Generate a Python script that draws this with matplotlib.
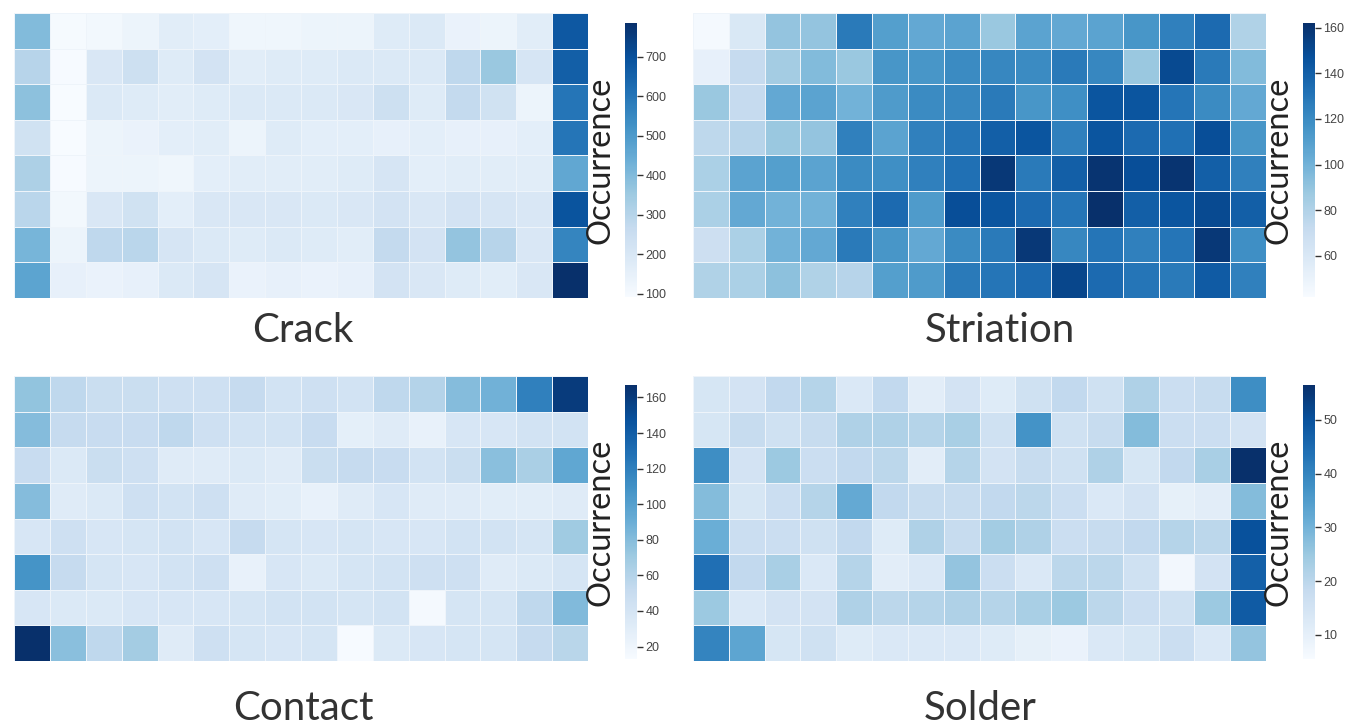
import numpy as np
import matplotlib
matplotlib.use('Agg')
import matplotlib.pyplot as plt
import seaborn as sns

# --- data (8 rows x 16 columns per defect type) ---
crack = [
    [400, 100, 110, 130, 170, 160, 120, 120, 130, 130, 180, 190, 140, 130, 170, 680],
    [300,  95, 200, 240, 180, 220, 170, 180, 180, 190, 190, 190, 280, 360, 210, 660],
    [380,  92, 190, 180, 170, 180, 190, 190, 190, 200, 240, 180, 270, 230, 130, 600],
    [230,  92, 130, 140, 160, 170, 130, 180, 160, 160, 150, 160, 150, 150, 160, 600],
    [320,  95, 130, 130, 120, 160, 170, 170, 170, 180, 210, 160, 170, 170, 170, 460],
    [290, 110, 200, 230, 160, 200, 200, 200, 190, 200, 220, 200, 220, 210, 200, 690],
    [420, 130, 280, 290, 210, 190, 180, 190, 180, 170, 270, 220, 370, 300, 200, 560],
    [470, 150, 140, 150, 190, 210, 140, 150, 140, 150, 220, 200, 180, 170, 200, 786],
]
striation = [
    [44, 60, 90, 90, 128, 110, 105, 108, 88, 108, 105, 108, 115, 125, 135, 80],
    [52, 72, 85, 95, 88, 115, 115, 120, 122, 120, 128, 122, 88, 150, 128, 95],
    [88, 72, 105, 108, 100, 112, 120, 122, 128, 115, 118, 145, 145, 130, 120, 105],
    [75, 78, 88, 90, 125, 108, 125, 130, 140, 145, 125, 145, 135, 132, 148, 115],
    [82, 108, 110, 108, 120, 118, 125, 132, 158, 128, 140, 160, 148, 160, 140, 125],
    [82, 105, 100, 100, 125, 135, 112, 148, 145, 135, 130, 162, 140, 145, 150, 140],
    [68, 82, 100, 105, 128, 115, 105, 120, 128, 158, 122, 130, 125, 130, 158, 118],
    [80, 82, 92, 80, 78, 110, 112, 128, 130, 135, 152, 135, 130, 128, 142, 125],
]
contact = [
    [75, 55, 48, 48, 45, 45, 52, 42, 45, 42, 55, 60, 80, 88, 120, 160],
    [80, 52, 50, 50, 55, 45, 42, 42, 50, 28, 32, 25, 38, 38, 42, 42],
    [50, 35, 48, 45, 32, 32, 35, 32, 48, 52, 50, 42, 48, 78, 65, 95],
    [80, 32, 35, 45, 42, 45, 32, 30, 25, 32, 38, 32, 32, 30, 30, 32],
    [38, 45, 38, 40, 42, 38, 52, 40, 38, 40, 38, 38, 42, 42, 40, 70],
    [108, 52, 40, 38, 42, 45, 25, 38, 35, 40, 42, 45, 45, 32, 35, 40],
    [38, 35, 35, 38, 38, 38, 40, 42, 42, 40, 42, 16, 40, 40, 55, 82],
    [167, 78, 55, 68, 32, 45, 40, 38, 40, 14, 35, 38, 40, 40, 52, 58],
]
solder = [
    [14, 15, 19, 21, 13, 19, 11, 15, 12, 16, 19, 16, 22, 17, 18, 38],
    [14, 18, 16, 18, 22, 22, 21, 23, 16, 37, 16, 18, 28, 17, 17, 15],
    [38, 15, 25, 17, 19, 20, 11, 21, 15, 18, 16, 22, 14, 19, 23, 57],
    [28, 14, 17, 21, 32, 19, 18, 18, 19, 20, 17, 13, 15, 10, 11, 28],
    [31, 17, 17, 16, 19, 12, 22, 18, 24, 22, 17, 18, 19, 21, 20, 50],
    [44, 19, 23, 13, 21, 11, 13, 26, 17, 13, 20, 20, 16, 7, 15, 47],
    [25, 13, 15, 15, 22, 20, 21, 22, 21, 23, 25, 20, 17, 16, 25, 48],
    [40, 33, 14, 16, 12, 13, 13, 13, 12, 10, 9, 13, 14, 17, 13, 26],
]

titles = ['Crack', 'Striation', 'Contact', 'Solder']
datasets = [crack, striation, contact, solder]
vranges = [(92, 786), (42, 162), (13, 167), (5.5, 56.5)]
cbar_ticks = [[100, 200, 300, 400, 500, 600, 700],
              [60, 80, 100, 120, 140, 160],
              [20, 40, 60, 80, 100, 120, 140, 160],
              [10, 20, 30, 40, 50]]

W, H = 1355, 727
fig = plt.figure(figsize=(W / 100, H / 100), dpi=100)

def fx(px):
    return px / W

def fy(py):
    return 1 - py / H

# pixel boxes: (left, top, right, bottom)
heat_boxes = [(14, 13, 588, 298), (693, 13, 1266, 298),
              (14, 376, 588, 661), (693, 376, 1266, 661)]
cbar_boxes = [(625, 23, 637, 297), (1303, 23, 1315, 297),
              (625, 385, 637, 659), (1303, 385, 1315, 659)]
title_pos = [(303, 330), (1000, 330), (303, 709), (980, 709)]

for i in range(4):
    l, t, r, b = heat_boxes[i]
    ax = fig.add_axes([fx(l), fy(b), fx(r - l), (b - t) / H])
    l, t, r, b = cbar_boxes[i]
    cax = fig.add_axes([fx(l), fy(b), fx(r - l), (b - t) / H])
    vmin, vmax = vranges[i]
    sns.heatmap(np.array(datasets[i]), ax=ax, cbar_ax=cax, cmap='Blues',
                vmin=vmin, vmax=vmax, linewidths=0.6, linecolor='#eef4fa',
                xticklabels=False, yticklabels=False)
    cax.set_yticks(cbar_ticks[i])
    cax.tick_params(axis='y', length=4, width=1, color='#333333',
                    labelsize=9, labelcolor='#444444', pad=2)
    for lab in cax.get_yticklabels():
        lab.set_family('Liberation Sans')
    cax.yaxis.set_label_position('left')
    cax.set_ylabel('Occurrence', fontsize=23.5, family='Lato',
                   color='#222222', labelpad=7)
    tx, ty = title_pos[i]
    fig.text(fx(tx), fy(ty), titles[i], ha='center', va='center',
             fontsize=29, family='Lato', color='#333333')

fig.savefig('out.png', dpi=100)
